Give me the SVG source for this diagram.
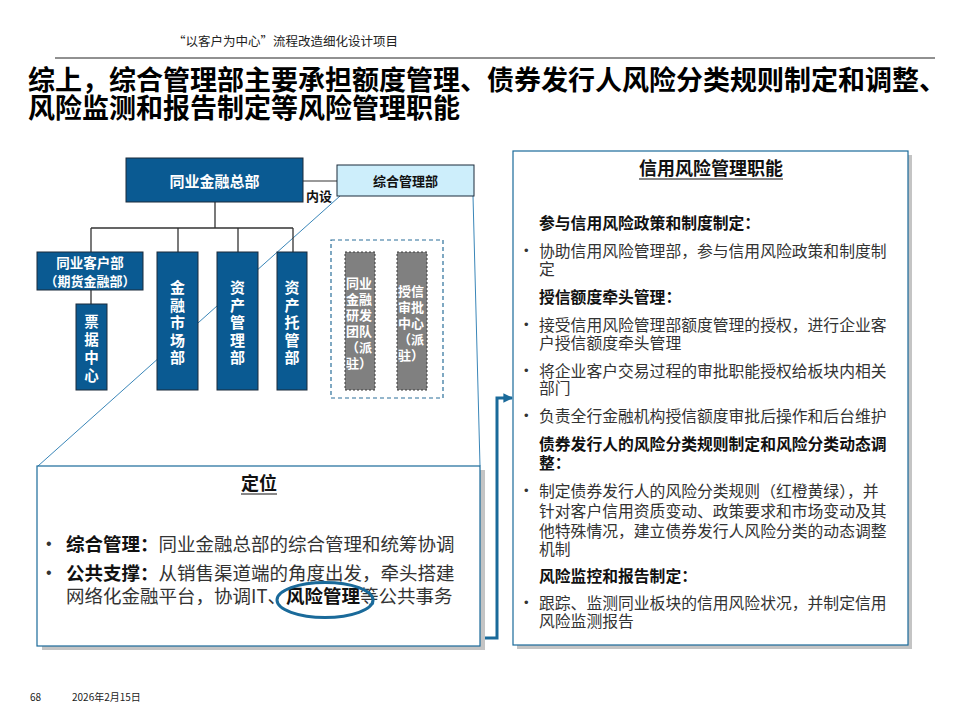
<svg xmlns="http://www.w3.org/2000/svg" width="960" height="720" viewBox="0 0 960 720">
<defs>
<style>
text{font-family:"Noto Sans CJK SC","Liberation Sans",sans-serif;}
.hdr{font-size:12.5px;fill:#222;}
.ttl{font-size:27px;font-weight:bold;fill:#000;}
.blue{fill:#0a5a92;stroke:#1b2b3b;stroke-width:1;}
.wt{fill:#fff;font-weight:bold;}
.gray{fill:#808080;stroke:#3a3a3a;stroke-width:1;stroke-dasharray:2,2;}
.tree{stroke:#333;stroke-width:1.3;fill:none;}
.thin{stroke:#3a86b8;stroke-width:1;fill:none;}
.panel{fill:#fff;stroke:#1a6a9a;stroke-width:1.2;}
.shadow{fill:#c4c4c4;}
.n{font-size:15.8px;fill:#333;}
.b{font-size:15.8px;font-weight:bold;fill:#111;}
.l{font-size:18.5px;fill:#333;}
.lb{font-weight:bold;fill:#111;}
.bul{font-family:"Liberation Sans",Arial,sans-serif;fill:#333;}
.foot{font-size:10px;fill:#222;}
</style>
<marker id="ah" viewBox="0 0 10 10" refX="9" refY="5" markerWidth="3.2" markerHeight="3.2" orient="auto" markerUnits="strokeWidth">
<path d="M0,0 L10,5 L0,10 z" fill="#1a6a9a"/>
</marker>
</defs>
<rect width="960" height="720" fill="#fff"/>

<g id="header">
<text class="hdr" x="173" y="46">“以客户为中心”流程改造细化设计项目</text>
<line x1="55" y1="58" x2="935" y2="58" stroke="#222" stroke-width="1"/>
<text class="ttl" x="28" y="90">综上，综合管理部主要承担额度管理、债券发行人风险分类规则制定和调整、</text>
<text class="ttl" x="28" y="118">风险监测和报告制定等风险管理职能</text>
</g>

<g id="connectors">
<line class="thin" x1="340" y1="196" x2="38" y2="466"/>
<line class="thin" x1="473" y1="196" x2="480" y2="466"/>
<line x1="303" y1="181" x2="337" y2="181" stroke="#777" stroke-width="1.3"/>
<path class="tree" d="M215,202 V228 M91,228 H293 M91,228 V252 M178,228 V252 M238,228 V252 M293,228 V252 M91,290 V304"/>
<path d="M326,617 V638 H497 V398 H512" fill="none" stroke="#1a6a9a" stroke-width="3" marker-end="url(#ah)"/>
<text x="306" y="201" style="font-size:13px;font-weight:bold;fill:#111">内设</text>
</g>

<g id="hq">
<rect class="blue" x="126" y="158" width="177" height="44"/>
<text class="wt" x="214.5" y="180" text-anchor="middle" dominant-baseline="central" style="font-size:15px">同业金融总部</text>
</g>

<g id="zonghe">
<rect x="337" y="165" width="137" height="31" fill="#cdeefb" stroke="#1b2b3b" stroke-width="1"/>
<text x="405.5" y="180.5" text-anchor="middle" dominant-baseline="central" style="font-size:13px;font-weight:bold;fill:#111">综合管理部</text>
</g>

<g id="kehu">
<rect class="blue" x="37" y="252" width="106" height="38"/>
<text class="wt" x="90" y="262" text-anchor="middle" dominant-baseline="central" style="font-size:13.5px">同业客户部</text>
<text class="wt" x="90" y="280" text-anchor="middle" dominant-baseline="central" style="font-size:13px">（期货金融部）</text>
</g>

<g id="piaoju">
<rect class="blue" x="76" y="304" width="31" height="86"/>
<text class="wt" text-anchor="middle" dominant-baseline="central" style="font-size:14.5px">
<tspan x="91.5" y="320">票</tspan><tspan x="91.5" y="338">据</tspan><tspan x="91.5" y="356">中</tspan><tspan x="91.5" y="374">心</tspan></text>
</g>

<g id="jinrong">
<rect class="blue" x="157" y="252" width="41" height="138"/>
<text class="wt" text-anchor="middle" dominant-baseline="central" style="font-size:15px">
<tspan x="177.5" y="286">金</tspan><tspan x="177.5" y="303.5">融</tspan><tspan x="177.5" y="321">市</tspan><tspan x="177.5" y="338.5">场</tspan><tspan x="177.5" y="356">部</tspan></text>
</g>

<g id="zichan">
<rect class="blue" x="217" y="252" width="41" height="138"/>
<text class="wt" text-anchor="middle" dominant-baseline="central" style="font-size:15px">
<tspan x="237.5" y="286">资</tspan><tspan x="237.5" y="303.5">产</tspan><tspan x="237.5" y="321">管</tspan><tspan x="237.5" y="338.5">理</tspan><tspan x="237.5" y="356">部</tspan></text>
</g>

<g id="tuoguan">
<rect class="blue" x="277" y="252" width="30" height="138"/>
<text class="wt" text-anchor="middle" dominant-baseline="central" style="font-size:15px">
<tspan x="292" y="286">资</tspan><tspan x="292" y="303.5">产</tspan><tspan x="292" y="321">托</tspan><tspan x="292" y="338.5">管</tspan><tspan x="292" y="356">部</tspan></text>
</g>

<g id="paizhu">
<rect x="331" y="240" width="112" height="158" fill="none" stroke="#2a6f9a" stroke-width="1.2" stroke-dasharray="4,3"/>
</g>

<g id="yanfa">
<rect class="gray" x="345" y="252" width="30" height="138"/>
<text class="wt" dominant-baseline="central" style="font-size:13px">
<tspan x="346" y="282">同业</tspan><tspan x="346" y="298">金融</tspan><tspan x="346" y="314">研发</tspan><tspan x="346" y="330">团队</tspan><tspan x="346" y="346">（派</tspan><tspan x="346" y="362">驻）</tspan></text>
</g>

<g id="shenpi">
<rect class="gray" x="397" y="252" width="30" height="138"/>
<text class="wt" dominant-baseline="central" style="font-size:13px">
<tspan x="398" y="290">授信</tspan><tspan x="398" y="306">审批</tspan><tspan x="398" y="322">中心</tspan><tspan x="398" y="338">（派</tspan><tspan x="398" y="354">驻）</tspan></text>
</g>

<g id="dingwei">
<rect class="shadow" x="42" y="470" width="443" height="180"/>
<rect class="panel" x="37" y="466" width="443" height="180"/>
<text x="259" y="482" text-anchor="middle" dominant-baseline="central" style="font-size:18px;font-weight:bold;fill:#111">定位</text>
<line x1="241" y1="494" x2="277" y2="494" stroke="#111" stroke-width="1.2"/>
<text class="bul" x="46" y="543" dominant-baseline="central" style="font-size:16px">•</text>
<text class="l" x="66" y="543" dominant-baseline="central"><tspan class="lb">综合管理：</tspan>同业金融总部的综合管理和统筹协调</text>
<text class="bul" x="46" y="572" dominant-baseline="central" style="font-size:16px">•</text>
<text class="l" x="66" y="572" dominant-baseline="central"><tspan class="lb">公共支撑：</tspan>从销售渠道端的角度出发，牵头搭建</text>
<text class="l" x="66" y="595" dominant-baseline="central">网络化金融平台，协调IT、<tspan class="lb">风险管理</tspan>等公共事务</text>
<ellipse cx="325" cy="600" rx="48" ry="17.5" fill="none" stroke="#1a6a9a" stroke-width="3"/>
</g>

<g id="xinyong">
<rect class="shadow" x="517" y="155" width="395" height="494"/>
<rect class="panel" x="513" y="151" width="395" height="494"/>
<text x="711" y="167" text-anchor="middle" dominant-baseline="central" style="font-size:18px;font-weight:bold;fill:#111">信用风险管理职能</text>
<line x1="639" y1="179" x2="783" y2="179" stroke="#111" stroke-width="1.2"/>
<g dominant-baseline="central">
<text class="b" x="539" y="222">参与信用风险政策和制度制定：</text>
<text class="bul" x="524" y="250" style="font-size:13px">•</text>
<text class="n" x="539" y="250">协助信用风险管理部，参与信用风险政策和制度制</text>
<text class="n" x="539" y="268">定</text>
<text class="b" x="539" y="296">授信额度牵头管理：</text>
<text class="bul" x="524" y="324" style="font-size:13px">•</text>
<text class="n" x="539" y="324">接受信用风险管理部额度管理的授权，进行企业客</text>
<text class="n" x="539" y="342">户授信额度牵头管理</text>
<text class="bul" x="524" y="370" style="font-size:13px">•</text>
<text class="n" x="539" y="370">将企业客户交易过程的审批职能授权给板块内相关</text>
<text class="n" x="539" y="387">部门</text>
<text class="bul" x="524" y="415" style="font-size:13px">•</text>
<text class="n" x="539" y="415">负责全行金融机构授信额度审批后操作和后台维护</text>
<text class="b" x="539" y="443">债券发行人的风险分类规则制定和风险分类动态调</text>
<text class="b" x="539" y="462">整：</text>
<text class="bul" x="524" y="490" style="font-size:13px">•</text>
<text class="n" x="539" y="490">制定债券发行人的风险分类规则（红橙黄绿），并</text>
<text class="n" x="539" y="510">针对客户信用资质变动、政策要求和市场变动及其</text>
<text class="n" x="539" y="530">他特殊情况，建立债券发行人风险分类的动态调整</text>
<text class="n" x="539" y="548">机制</text>
<text class="b" x="539" y="575">风险监控和报告制定：</text>
<text class="bul" x="524" y="602" style="font-size:13px">•</text>
<text class="n" x="539" y="602">跟踪、监测同业板块的信用风险状况，并制定信用</text>
<text class="n" x="539" y="620">风险监测报告</text>
</g>
</g>

<g id="footer">
<text class="foot" x="30" y="701">68</text>
<text class="foot" x="72" y="701">2026年2月15日</text>
</g>
</svg>
